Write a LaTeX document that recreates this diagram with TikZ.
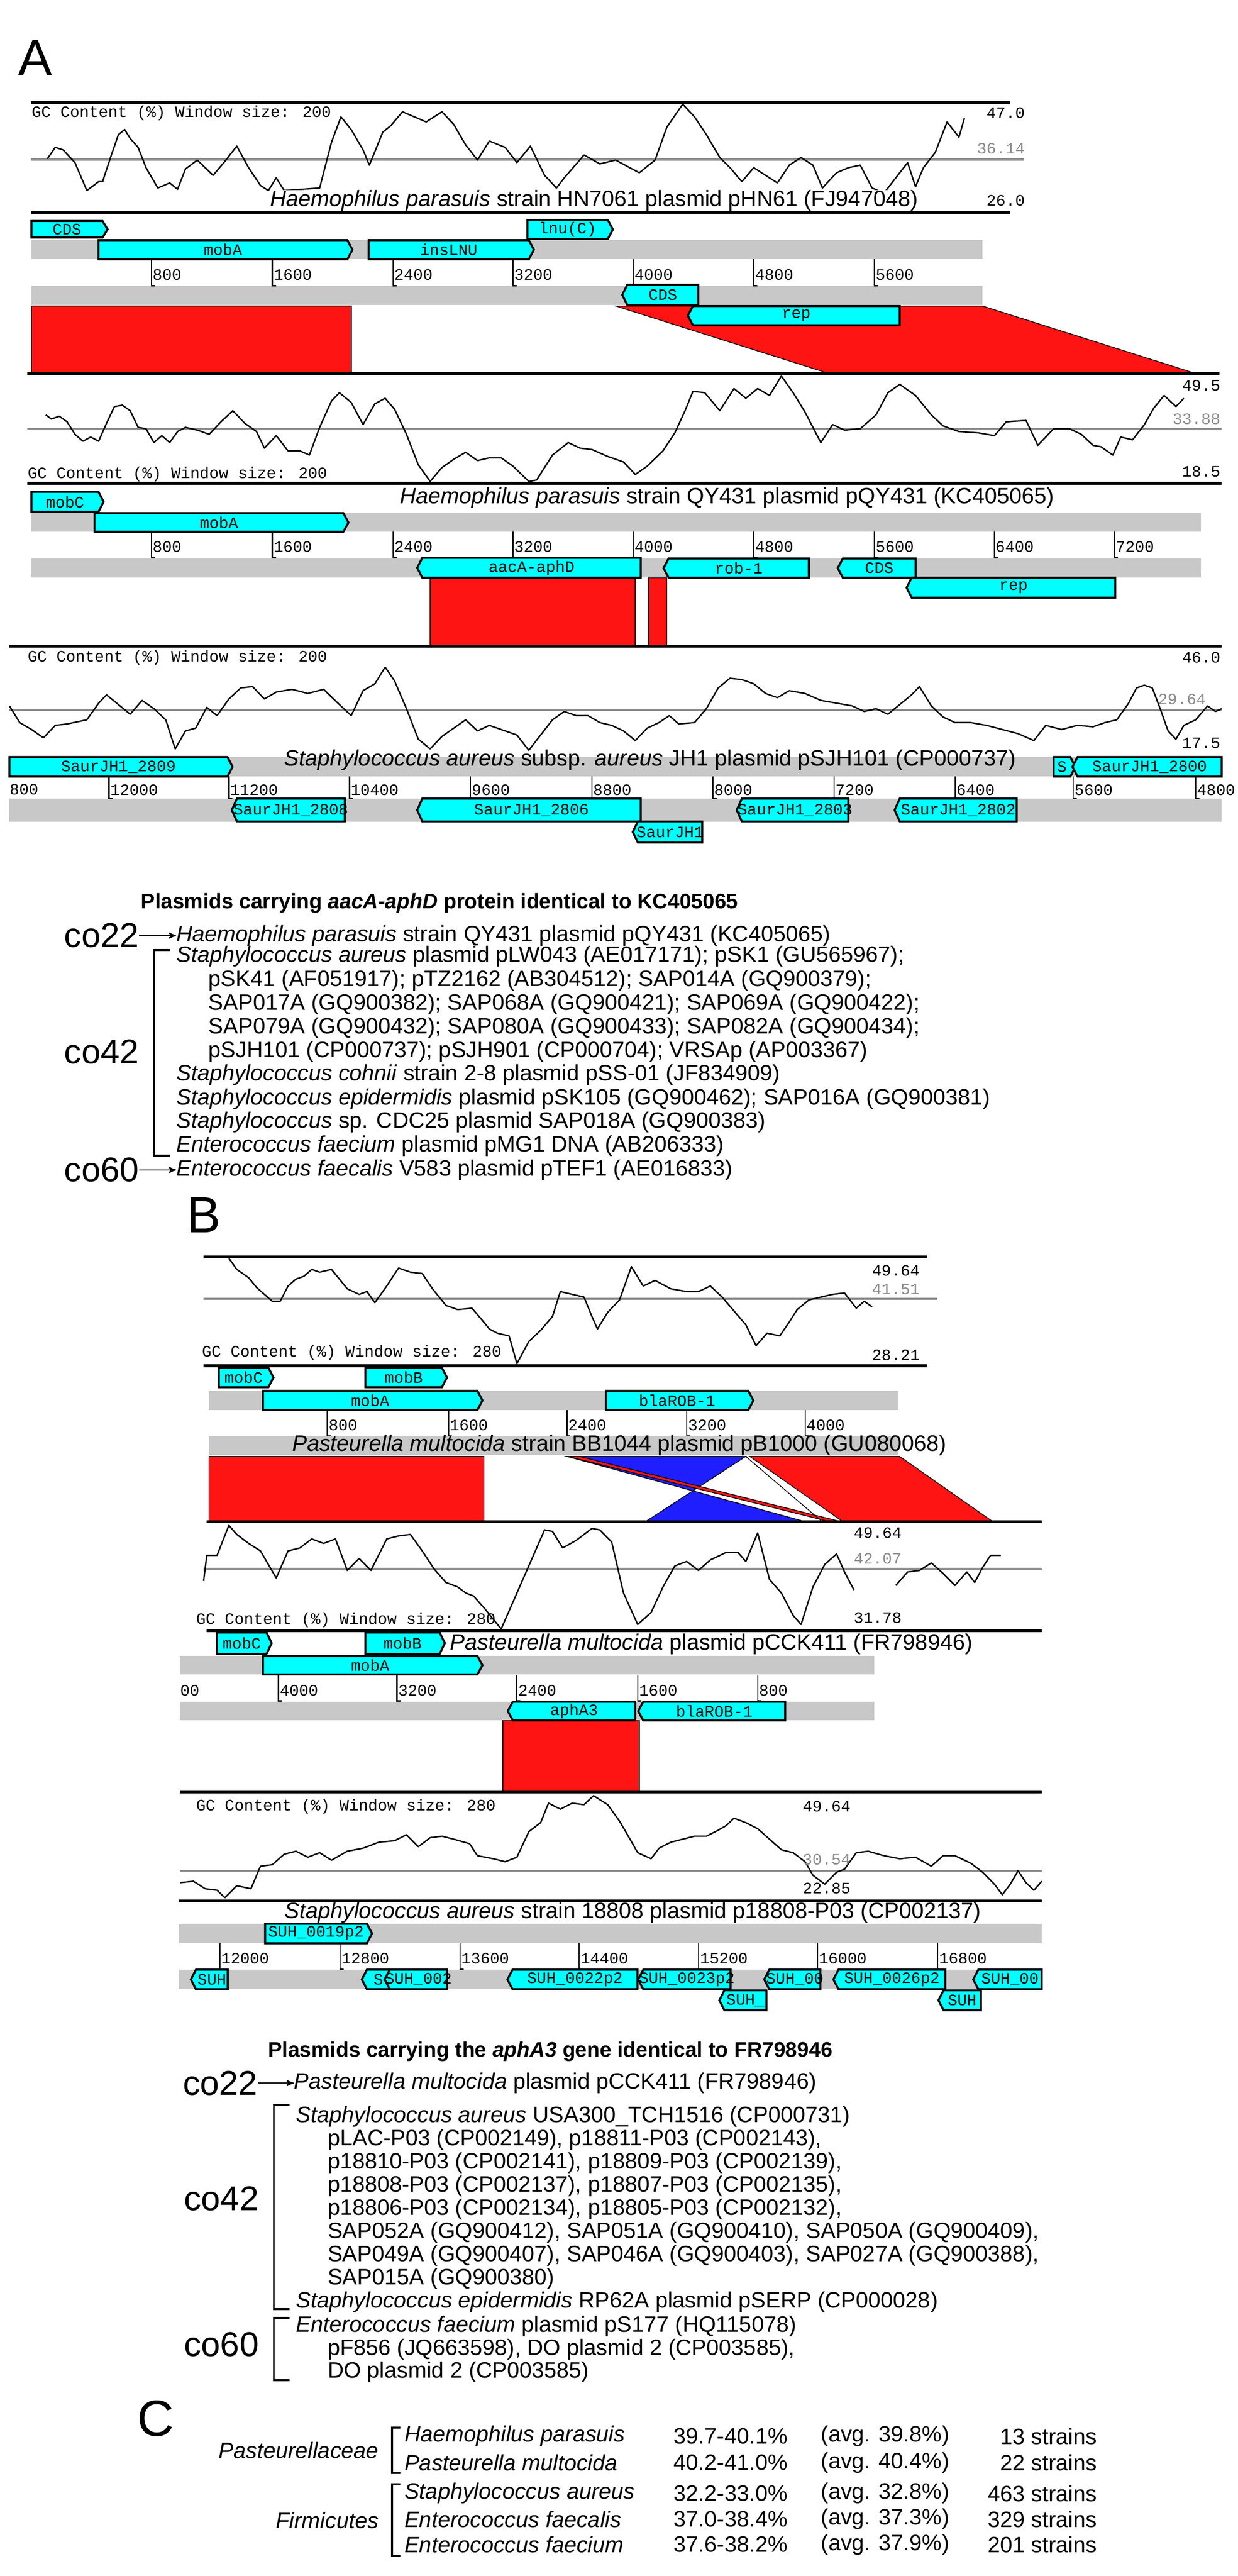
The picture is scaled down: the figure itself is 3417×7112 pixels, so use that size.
\documentclass[tikz,border=0pt]{standalone}
\usepackage{fontspec}
\setmainfont{Liberation Sans}
\newfontfamily\gcfont{Liberation Mono}
\usetikzlibrary{arrows,positioning}
\definecolor{genecyan}{HTML}{00FFFF}
\definecolor{hitred}{HTML}{FF1414}
\definecolor{hitblue}{HTML}{1E1EFF}
\definecolor{bargray}{HTML}{C8C8C8}
\definecolor{refgray}{HTML}{8C8C8C}
\tikzset {
  % tracks
  frame/.style = {draw = black, line width = 2.2pt},
  midline/.style = {draw = refgray, line width = 1.8pt},
  gc/.style = {draw = black, line width = 1.1pt, line join = round},
  bar/.style = {fill = bargray, draw = none},
  gene/.style = {fill = genecyan, draw = black, line width = 1.6pt},
  hit/.style = {fill = hitred, draw = black, line width = 0.6pt},
  invhit/.style = {fill = hitblue, draw = black, line width = 0.6pt},
  tickl/.style = {draw = black, line width = 1pt},
  % texts
  glabel/.style = {inner sep = 0, font = \gcfont\fontsize{12.5pt}{13pt}\selectfont},
  tlabel/.style = {glabel, anchor = west},
  gcval/.style = {glabel, anchor = east},
  gcref/.style = {gcval, text = refgray},
  title/.style = {inner sep = 0, font = \fontsize{17.5pt}{19pt}\selectfont},
  item/.style = {inner sep = 0, anchor = west, font = \fontsize{17.5pt}{19pt}\selectfont},
  head/.style = {item, font = \fontsize{16.5pt}{18pt}\selectfont\bfseries},
  group/.style = {inner sep = 0, anchor = east, font = \fontsize{27pt}{30pt}\selectfont},
  panel/.style = {inner sep = 0, font = \fontsize{40pt}{44pt}\selectfont},
  brk/.style = {draw = black, line width = 1.6pt},
  pt/.style = {draw = black, line width = 1pt, -stealth'}
}
\newcounter{gn}
% forward and reverse genes
\newcommand\fgene[5]{\stepcounter{gn}
  \filldraw[gene] (#1,#2) -- (#3,#2) -- ({#3+14},{(#2+#4)/2}) -- (#3,#4) -- (#1,#4) -- cycle;
  \node[glabel] (gene\arabic{gn}) at ({(#1+#3)/2},{(#2+#4)/2}) {#5};}
\newcommand\rgene[5]{\stepcounter{gn}
  \filldraw[gene] (#1,#2) -- (#3,#2) -- (#3,#4) -- (#1,#4) -- ({#1-14},{(#2+#4)/2}) -- cycle;
  \node[glabel] (gene\arabic{gn}) at ({(#1+#3)/2},{(#2+#4)/2}) {#5};}
\newcounter{tn}
\newcommand\tck[4]{\stepcounter{tn}
  \draw[tickl] (#1,#2) -- (#1,#3) -- ++(10,0);
  \node[tlabel] (tick\arabic{tn}) at ({#1+3},{(#2+#3)/2+6}) {#4};}

\begin{document}
\begin{tikzpicture}[x=0.01cm, y=-0.01cm]
  \useasboundingbox (0,0) rectangle (3417,7112);

  \node[panel] (lblA) at (98,160) {A};

  % ---- pHN61
  \draw[frame] (87,283) -- (2789,283);
  \draw[midline] (87,440) -- (2828,440);
  \draw[frame] (87,586) -- (2789,586);
  \begin{scope}[xscale=2.179, yscale=0.7015]
    \draw[gc] plot coordinates {(60,625) (70,580) (80,590) (95,640) (110,750) (125,715) (130,715) (140,620) (150,530) (158,510) (165,545) (175,580) (185,660) (200,740) (215,720) (225,745) (235,665) (250,630) (270,690) (285,635) (300,575) (315,660) (330,730) (340,750) (350,700) (360,750) (405,740) (420,560) (432,460) (445,510) (460,590) (468,650) (485,520) (495,495) (510,440) (525,460) (540,480) (560,440) (575,490) (590,570) (605,630) (620,555) (640,580) (655,640) (672,575) (690,690) (705,740) (715,700) (740,610) (760,645) (780,630) (810,680) (830,630) (845,500) (865,410) (880,460) (895,530) (912,620) (925,660) (940,715) (955,660) (970,690) (985,720) (1000,650) (1015,620) (1030,650) (1042,740) (1060,680) (1075,660) (1090,650) (1105,740) (1120,760) (1135,700) (1150,640) (1160,735) (1170,660) (1185,600) (1200,480) (1215,540) (1222,465)};
  \end{scope}
  \node[glabel, anchor=west] (gcA1) at (87,312) {GC Content (\%)  Window size: 200};
  \node[gcval] (maxA1) at (2830,312) {47.0};
  \node[gcref] (avgA1) at (2830,410) {36.14};
  \node[gcval] (minA1) at (2830,554) {26.0};
  \node[title, fill=white] (nameA1) at (1640,554) {\textit{Haemophilus parasuis} strain HN7061 plasmid pHN61 (FJ947048)};
  \fill[bar] (87,663) rectangle (2713,716);
  \fill[bar] (87,789) rectangle (2713,842);
  \fgene{87}{610}{283}{656}{CDS}
  \fgene{272}{663}{959}{716}{mobA}
  \fgene{1018}{663}{1460}{716}{insLNU}
  \fgene{1456}{607}{1678}{660}{lnu(C)}
  \foreach \x/\t in {418/800,752/1600,1085/2400,1416/3200,1748/4000,2081/4800,2414/5600}
    {\tck{\x}{716}{789}{\t}}
  % hits pHN61 - pQY431
  \filldraw[hit] (87,845) rectangle (970,1031);
  \filldraw[hit] (1700,845) -- (2713,845) -- (3301,1031) -- (2288,1031) -- cycle;
  \rgene{1732}{786}{1928}{842}{CDS}
  \rgene{1913}{845}{2484}{898}{rep}

  % ---- pQY431
  \draw[frame] (76,1031) -- (3367,1031);
  \draw[midline] (76,1185) -- (3373,1185);
  \draw[frame] (76,1334) -- (3373,1334);
  \begin{scope}[shift={(0,1000)}, xscale=2.179, yscale=0.7653]
    \draw[gc] plot coordinates {(58,190) (65,205) (75,195) (85,215) (95,260) (105,285) (115,270) (125,285) (135,220) (145,160) (155,155) (165,175) (175,235) (185,240) (195,290) (205,265) (215,290) (225,250) (235,235) (250,245) (265,260) (280,215) (295,175) (310,220) (325,250) (335,310) (350,265) (365,320) (380,320) (392,335) (405,235) (420,140) (430,110) (445,145) (460,225) (475,150) (488,130) (500,170) (515,260) (530,370) (545,430) (560,380) (575,350) (590,325) (605,355) (620,345) (635,345) (650,375) (670,430) (680,425) (700,335) (720,290) (735,310) (750,315) (770,340) (790,360) (805,405) (820,375) (840,320) (855,255) (868,175) (878,105) (893,110) (912,175) (930,95) (945,130) (960,95) (975,120) (990,50) (1005,110) (1020,180) (1040,290) (1055,225) (1070,245) (1090,240) (1110,190) (1125,110) (1140,80) (1160,120) (1180,190) (1195,230) (1215,250) (1240,255) (1260,265) (1275,215) (1300,210) (1315,300) (1335,240) (1355,240) (1370,260) (1385,300) (1395,305) (1410,335) (1420,270) (1435,280) (1450,225) (1462,165) (1475,120) (1490,160) (1500,130)};
  \end{scope}
  \node[gcval] (maxA2) at (3370,1065) {49.5};
  \node[gcref] (avgA2) at (3370,1157) {33.88};
  \node[glabel, anchor=west] (gcA2) at (76,1310) {GC Content (\%)  Window size: 200};
  \node[gcval] (minA2) at (3370,1302) {18.5};
  \node[title] (nameA2) at (2007,1375) {\textit{Haemophilus parasuis} strain QY431 plasmid pQY431 (KC405065)};
  \fill[bar] (87,1417) rectangle (3316,1468);
  \fill[bar] (87,1542) rectangle (3316,1595);
  \fgene{87}{1358}{272}{1413}{mobC}
  \fgene{261}{1417}{948}{1468}{mobA}
  \foreach \x/\t in {418/800,752/1600,1085/2400,1416/3200,1748/4000,2081/4800,2414/5600,2745/6400,3077/7200}
    {\tck{\x}{1468}{1540}{\t}}
  % hits pQY431 - pSJH101
  \filldraw[hit] (1188,1595) rectangle (1754,1784);
  \filldraw[hit] (1791,1595) rectangle (1841,1784);
  \rgene{1166}{1540}{1769}{1595}{aacA-aphD}
  \rgene{1846}{1542}{2233}{1595}{rob-1}
  \rgene{2327}{1542}{2528}{1595}{CDS}
  \rgene{2517}{1595}{3079}{1650}{rep}

  % ---- pSJH101
  \draw[frame] (26,1784) -- (3373,1784);
  \draw[midline] (26,1960) -- (3373,1960);
  \begin{scope}[shift={(0,1000)}, xscale=2.179, yscale=0.7653]
    \draw[gc] plot coordinates {(12,1240) (25,1300) (40,1325) (55,1355) (70,1310) (85,1305) (110,1290) (125,1230) (135,1200) (150,1235) (165,1270) (180,1220) (195,1250) (210,1290) (222,1395) (235,1330) (248,1320) (262,1245) (275,1275) (290,1215) (305,1175) (320,1170) (335,1215) (350,1190) (370,1180) (390,1195) (410,1180) (430,1235) (445,1275) (460,1185) (475,1160) (488,1100) (500,1150) (515,1250) (530,1360) (545,1395) (560,1350) (575,1320) (590,1290) (605,1330) (620,1310) (640,1330) (655,1345) (670,1400) (685,1345) (700,1290) (715,1260) (730,1275) (745,1275) (760,1300) (775,1310) (790,1330) (805,1365) (820,1320) (835,1300) (848,1275) (860,1305) (880,1300) (895,1250) (910,1175) (925,1140) (940,1145) (955,1160) (970,1195) (985,1210) (1000,1185) (1020,1195) (1040,1220) (1060,1230) (1080,1240) (1095,1260) (1110,1250) (1125,1270) (1140,1235) (1155,1200) (1165,1170) (1180,1240) (1195,1280) (1210,1300) (1230,1300) (1250,1310) (1270,1325) (1290,1340) (1310,1365) (1325,1310) (1345,1325) (1365,1310) (1385,1315) (1400,1300) (1415,1290) (1430,1230) (1440,1175) (1450,1165) (1460,1175) (1470,1250) (1480,1330) (1490,1360) (1500,1310) (1515,1290) (1530,1240) (1540,1260) (1548,1250)};
  \end{scope}
  \node[glabel, anchor=west] (gcA3) at (76,1815) {GC Content (\%)  Window size: 200};
  \node[gcval] (maxA3) at (3370,1815) {46.0};
  \node[gcref] (avgA3) at (3330,1930) {29.64};
  \node[gcval] (minA3) at (3370,2052) {17.5};
  \fill[bar] (26,2090) rectangle (3373,2144);
  \fill[bar] (26,2205) rectangle (3373,2268);
  \node[title] (nameA3) at (1795,2098) {\textit{Staphylococcus aureus} subsp. \textit{aureus} JH1 plasmid pSJH101 (CP000737)};
  \fgene{26}{2090}{628}{2144}{SaurJH1\_2809}
  \fgene{2909}{2090}{2955}{2144}{S}
  \rgene{2975}{2090}{3373}{2144}{SaurJH1\_2800}
  \node[tlabel] (tick0) at (26,2180) {800};
  \foreach \x/\t in {301/12000,632/11200,965/10400,1299/9600,1634/8800,1968/8000,2303/7200,2637/6400,2963/5600,3301/4800}
    {\tck{\x}{2144}{2205}{\t}}
  \rgene{654}{2205}{952}{2268}{SaurJH1\_2808}
  \rgene{1166}{2205}{1769}{2268}{SaurJH1\_2806}
  \rgene{2048}{2205}{2342}{2268}{SaurJH1\_2803}
  \rgene{2484}{2205}{2807}{2268}{SaurJH1\_2802}
  \rgene{1761}{2268}{1939}{2326}{SaurJH1}

  % ---- plasmids with aacA-aphD
  \node[head] (headA) at (389,2493) {Plasmids carrying \textit{aacA-aphD} protein identical to KC405065};
  \node[item] (a1) at (486,2583) {\textit{Haemophilus parasuis} strain QY431 plasmid pQY431 (KC405065)};
  \node[item] (a2) at (486,2641) {\textit{Staphylococcus aureus} plasmid pLW043 (AE017171); pSK1 (GU565967);};
  \node[item] (a3) at (575,2707) {pSK41 (AF051917); pTZ2162 (AB304512); SAP014A (GQ900379);};
  \node[item] (a4) at (575,2772) {SAP017A (GQ900382); SAP068A (GQ900421); SAP069A (GQ900422);};
  \node[item] (a5) at (575,2838) {SAP079A (GQ900432); SAP080A (GQ900433); SAP082A (GQ900434);};
  \node[item] (a6) at (575,2904) {pSJH101 (CP000737); pSJH901 (CP000704); VRSAp (AP003367)};
  \node[item] (a7) at (486,2968) {\textit{Staphylococcus cohnii} strain 2-8 plasmid pSS-01 (JF834909)};
  \node[item] (a8) at (486,3034) {\textit{Staphylococcus epidermidis} plasmid pSK105 (GQ900462); SAP016A (GQ900381)};
  \node[item] (a9) at (486,3098) {\textit{Staphylococcus} sp. CDC25 plasmid SAP018A (GQ900383)};
  \node[item] (a10) at (486,3164) {\textit{Enterococcus faecium} plasmid pMG1 DNA (AB206333)};
  \node[item] (a11) at (486,3230) {\textit{Enterococcus faecalis} V583 plasmid pTEF1 (AE016833)};
  \node[group] (coA22) at (384,2583) {co22};
  \node[group] (coA42) at (384,2904) {co42};
  \node[group] (coA60) at (384,3230) {co60};
  \draw[pt] (coA22) -- (a1);
  \draw[pt] (coA60) -- (a11);
  \draw[brk] (470,2623) -- (425,2623) -- (425,3191) -- (470,3191);

  \node[panel] (lblB) at (563,3355) {B};

  % ---- pB1000
  \draw[frame] (562,3470) -- (2560,3470);
  \draw[midline] (562,3586) -- (2588,3586);
  \draw[frame] (562,3771) -- (2560,3771);
  \begin{scope}[shift={(0,2900)}, xscale=2.179, yscale=0.7653]
    \draw[gc] plot coordinates {(290,750) (300,790) (315,820) (325,855) (335,880) (345,905) (355,905) (365,850) (375,825) (385,815) (395,790) (405,800) (420,790) (430,825) (440,860) (455,880) (465,870) (475,910) (490,850) (505,785) (520,800) (535,805) (548,860) (565,920) (580,935) (598,930) (610,970) (620,1005) (630,1020) (645,1030) (655,1130) (670,1050) (685,1010) (700,960) (710,870) (725,880) (740,890) (750,960) (757,1005) (770,945) (785,900) (800,780) (815,850) (830,830) (850,860) (870,870) (885,870) (900,850) (915,890) (930,940) (945,990) (958,1065) (972,1020) (988,1030) (1000,980) (1010,935) (1025,900) (1040,890) (1055,880) (1070,875) (1085,930) (1095,905) (1105,925)};
  \end{scope}
  \node[gcval] (maxB1) at (2540,3508) {49.64};
  \node[gcref] (avgB1) at (2540,3560) {41.51};
  \node[glabel, anchor=west] (gcB1) at (557,3734) {GC Content (\%)  Window size: 280};
  \node[gcval] (minB1) at (2540,3742) {28.21};
  \fill[bar] (577,3840) rectangle (2480,3893);
  \fill[bar] (577,3965) rectangle (2480,4017);
  \fgene{604}{3776}{741}{3830}{mobC}
  \fgene{1009}{3776}{1220}{3830}{mobB}
  \fgene{726}{3840}{1318}{3893}{mobA}
  \fgene{1673}{3840}{2066}{3893}{blaROB-1}
  \foreach \x/\t in {904/800,1238/1600,1565/2400,1896/3200,2223/4000}
    {\tck{\x}{3893}{3964}{\t}}
  \node[title] (nameB1) at (1710,3990) {\textit{Pasteurella multocida} strain BB1044 plasmid pB1000 (GU080068)};
  % hits pB1000 - pCCK411
  \filldraw[hit] (577,4021) rectangle (1336,4201);
  \filldraw[invhit] (1565,4021) -- (2059,4021) -- (1913,4116) -- cycle;
  \filldraw[invhit] (1913,4116) -- (2223,4201) -- (1782,4201) -- cycle;
  \filldraw[hit] (1568,4021) -- (1600,4021) -- (2322,4201) -- (2290,4201) -- cycle;
  \draw[draw=black, line width=0.6pt] (2059,4021) -- (2270,4201);
  \filldraw[hit] (2070,4021) -- (2484,4021) -- (2741,4201) -- (2327,4201) -- cycle;

  % ---- pCCK411
  \draw[frame] (571,4201) -- (2876,4201);
  \draw[midline] (562,4332) -- (2876,4332);
  \draw[frame] (571,4502) -- (2876,4502);
  \begin{scope}[shift={(0,4000)}, xscale=2.179, yscale=0.829]
    \draw[gc] plot coordinates {(258,440) (262,355) (275,355) (290,255) (300,285) (315,315) (330,340) (350,430) (365,340) (380,330) (395,300) (410,315) (425,300) (440,405) (455,365) (470,405) (490,300) (505,290) (520,285) (535,340) (550,400) (565,445) (580,460) (590,480) (600,490) (615,535) (635,600) (650,510) (660,450) (675,360) (690,270) (700,275) (713,330) (730,305) (750,265) (760,270) (775,310) (790,480) (808,585) (825,545) (840,460) (855,390) (870,375) (885,405) (900,370) (920,345) (935,345) (945,375) (960,280) (975,435) (990,480) (1005,555) (1015,585) (1030,460) (1045,385) (1060,350) (1070,410) (1082,470)};
    \draw[gc] plot coordinates {(1135,455) (1150,410) (1165,405) (1180,380) (1195,415) (1210,455) (1225,410) (1235,445) (1245,395) (1255,355) (1268,355)};
  \end{scope}
  \node[gcval] (maxB2) at (2490,4232) {49.64};
  \node[gcref] (avgB2) at (2490,4303) {42.07};
  \node[glabel, anchor=west] (gcB2) at (541,4473) {GC Content (\%)  Window size: 280};
  \node[gcval] (minB2) at (2490,4467) {31.78};
  \fill[bar] (497,4572) rectangle (2414,4623);
  \fill[bar] (497,4698) rectangle (2414,4750);
  \fgene{599}{4507}{736}{4566}{mobC}
  \fgene{1009}{4507}{1214}{4566}{mobB}
  \node[title, anchor=west] (nameB2) at (1242,4539) {\textit{Pasteurella multocida} plasmid pCCK411 (FR798946)};
  \fgene{726}{4572}{1318}{4623}{mobA}
  \node[tlabel] (tick00) at (497,4667) {00};
  \foreach \x/\t in {769/4000,1096/3200,1427/2400,1761/1600,2092/800}
    {\tck{\x}{4626}{4696}{\t}}
  % hit pCCK411 - p18808-P03
  \filldraw[hit] (1388,4750) rectangle (1765,4948);
  \rgene{1416}{4698}{1754}{4750}{aphA3}
  \rgene{1776}{4698}{2168}{4750}{blaROB-1}

  % ---- p18808-P03
  \draw[frame] (497,4948) -- (2876,4948);
  \draw[midline] (497,5166) -- (2876,5166);
  \draw[frame] (494,5248) -- (2876,5248);
  \begin{scope}[shift={(0,4000)}, xscale=2.179, yscale=0.829]
    \draw[gc] plot coordinates {(228,1445) (245,1440) (260,1465) (275,1470) (285,1495) (300,1455) (318,1465) (330,1390) (345,1385) (360,1350) (375,1340) (390,1360) (405,1345) (420,1370) (440,1340) (460,1330) (480,1310) (500,1305) (515,1285) (530,1325) (545,1295) (560,1290) (575,1300) (595,1315) (605,1355) (625,1365) (640,1375) (655,1360) (670,1275) (685,1245) (695,1180) (710,1200) (725,1180) (740,1185) (752,1155) (770,1185) (785,1240) (795,1285) (808,1345) (825,1365) (835,1330) (850,1310) (865,1300) (880,1290) (895,1290) (910,1270) (920,1255) (930,1230) (945,1245) (960,1265) (975,1300) (990,1335) (1005,1345) (1020,1375) (1030,1420) (1045,1450) (1060,1410) (1070,1400) (1085,1345) (1100,1340) (1120,1355) (1140,1365) (1160,1360) (1180,1390) (1195,1355) (1210,1355) (1230,1380) (1245,1410) (1260,1450) (1270,1485) (1280,1450) (1290,1405) (1300,1445) (1310,1470) (1320,1440)};
  \end{scope}
  \node[glabel, anchor=west] (gcB3) at (541,4987) {GC Content (\%)  Window size: 280};
  \node[gcval] (maxB3) at (2349,4987) {49.64};
  \node[gcref] (avgB3) at (2349,5134) {30.54};
  \node[gcval] (minB3) at (2349,5214) {22.85};
  \node[title] (nameB3) at (1747,5280) {\textit{Staphylococcus aureus} strain 18808 plasmid p18808-P03 (CP002137)};
  \fill[bar] (494,5311) rectangle (2876,5365);
  \fill[bar] (494,5438) rectangle (2876,5492);
  \fgene{732}{5311}{1013}{5365}{SUH\_0019p2}
  \foreach \x/\t in {607/12000,939/12800,1270/13600,1599/14400,1929/15200,2257/16000,2589/16800}
    {\tck{\x}{5365}{5437}{\t}}
  \rgene{541}{5438}{629}{5492}{SUH}
  \rgene{1013}{5438}{1076}{5492}{S}
  \rgene{1076}{5438}{1234}{5492}{SUH\_002}
  \rgene{1415}{5438}{1760}{5492}{SUH\_0022p2}
  \rgene{1776}{5438}{2017}{5492}{SUH\_0023p2}
  \rgene{2124}{5438}{2265}{5492}{SUH\_00}
  \rgene{2315}{5438}{2610}{5492}{SUH\_0026p2}
  \rgene{2701}{5438}{2876}{5492}{SUH\_00}
  \rgene{2000}{5495}{2116}{5550}{SUH\_}
  \rgene{2605}{5495}{2708}{5550}{SUH}

  % ---- plasmids with aphA3
  \node[head] (headB) at (740,5664) {Plasmids carrying the \textit{aphA3} gene identical to FR798946};
  \node[item] (b1) at (811,5751) {\textit{Pasteurella multocida} plasmid pCCK411 (FR798946)};
  \node[item] (b2) at (817,5843) {\textit{Staphylococcus aureus} USA300\_TCH1516 (CP000731)};
  \node[item] (b3) at (904,5907) {pLAC-P03 (CP002149), p18811-P03 (CP002143),};
  \node[item] (b4) at (904,5971) {p18810-P03 (CP002141), p18809-P03 (CP002139),};
  \node[item] (b5) at (904,6035) {p18808-P03 (CP002137), p18807-P03 (CP002135),};
  \node[item] (b6) at (904,6099) {p18806-P03 (CP002134), p18805-P03 (CP002132),};
  \node[item] (b7) at (904,6163) {SAP052A (GQ900412), SAP051A (GQ900410), SAP050A (GQ900409),};
  \node[item] (b8) at (904,6227) {SAP049A (GQ900407), SAP046A (GQ900403), SAP027A (GQ900388),};
  \node[item] (b9) at (904,6291) {SAP015A (GQ900380)};
  \node[item] (b10) at (817,6355) {\textit{Staphylococcus epidermidis} RP62A plasmid pSERP (CP000028)};
  \node[item] (b11) at (817,6422) {\textit{Enterococcus faecium} plasmid pS177 (HQ115078)};
  \node[item] (b12) at (904,6487) {pF856 (JQ663598), DO plasmid 2 (CP003585),};
  \node[item] (b13) at (904,6549) {DO plasmid 2 (CP003585)};
  \node[group] (coB22) at (712,5751) {co22};
  \node[group] (coB42) at (715,6070) {co42};
  \node[group] (coB60) at (715,6472) {co60};
  \draw[pt] (coB22) -- (b1);
  \draw[brk] (800,5812) -- (756,5812) -- (756,6375) -- (800,6375);
  \draw[brk] (800,6399) -- (756,6399) -- (756,6572) -- (800,6572);

  \node[panel] (lblC) at (430,6677) {C};

  % ---- GC content of hosts
  \node[item, anchor=east] (fam1) at (1046,6765) {\textit{Pasteurellaceae}};
  \node[item, anchor=east] (fam2) at (1046,6959) {\textit{Firmicutes}};
  \draw[brk] (1105,6702) -- (1083,6702) -- (1083,6828) -- (1105,6828);
  \draw[brk] (1105,6858) -- (1083,6858) -- (1083,7056) -- (1105,7056);
  \foreach \y/\sp/\rg/\av/\st [count=\i] in {
      6726/Haemophilus parasuis/39.7-40.1\%/39.8\%/13,
      6799/Pasteurella multocida/40.2-41.0\%/40.4\%/22,
      6884/Staphylococcus aureus/32.2-33.0\%/32.8\%/463,
      6955/Enterococcus faecalis/37.0-38.4\%/37.3\%/329,
      7025/Enterococcus faecium/37.6-38.2\%/37.9\%/201}
  {
    \node[item] (sp\i) at (1116,\y) {\textit{\sp}};
    \node[item] (rg\i) at (1859,\y) {\rg};
    \node[item] (av\i) at (2266,\y) {(avg. \av)};
    \node[item, anchor=east] (st\i) at (3029,\y) {\st\ strains};
  }
\end{tikzpicture}
\end{document}
